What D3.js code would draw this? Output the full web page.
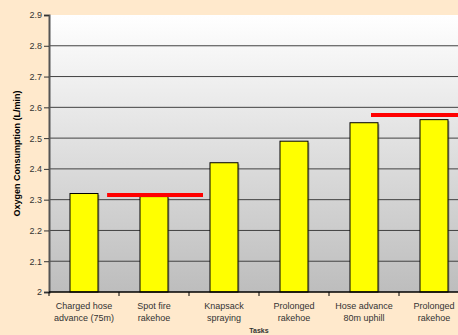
<!DOCTYPE html>
<html>
<head>
<meta charset="utf-8">
<script src="https://cdn.jsdelivr.net/npm/d3@7"></script>
<style>
  body { margin: 0; background: #FFE9CC; }
  svg { display: block; font-family: "Liberation Sans", Arial, sans-serif; }
</style>
</head>
<body>
<svg width="458" height="335"></svg>
<script>
const tasks = [
    ["Charged hose", "advance (75m)"],
    ["Spot fire", "rakehoe"],
    ["Knapsack", "spraying"],
    ["Prolonged", "rakehoe"],
    ["Hose advance", "80m uphill"],
    ["Prolonged", "rakehoe"],
    ["", ""]
]
const oxygen = [2.32, 2.31, 2.42, 2.49, 2.55, 2.56, null]
const yTicks = [2, 2.1, 2.2, 2.3, 2.4, 2.5, 2.6, 2.7, 2.8, 2.9]

// red reference lines: value and span measured in category units
const refValues = [2.315, 2.575]
const refStarts = [0.83, 4.6]
const refEnds = [2.2, 6.6]

const svg = d3.select("svg")

const xScale = d3.scaleBand().domain(d3.range(tasks.length)).range([49, 49 + 70 * tasks.length]).paddingInner(0).paddingOuter(0)
const xUnit = d3.scaleLinear().domain([0, tasks.length]).range([49, 49 + 70 * tasks.length])
const yScale = d3.scaleLinear().domain([2, 2.9]).range([292, 15])

// plot background gradient
const grad = svg.append("defs").append("linearGradient")
    .attr("id", "bg")
    .attr("x1", 0).attr("y1", 0).attr("x2", 0).attr("y2", 1)
grad.append("stop").attr("offset", "0%").attr("stop-color", "#FFFFFF")
grad.append("stop").attr("offset", "100%").attr("stop-color", "#BDBDBD")

svg.append("rect")
    .attr("x", xUnit(0))
    .attr("y", yScale(2.9))
    .attr("width", xUnit(tasks.length) - xUnit(0))
    .attr("height", yScale(2) - yScale(2.9))
    .style("fill", "url(#bg)")

// gridlines
svg.selectAll("line.grid")
    .data(yTicks.slice(1, -1))
    .enter()
    .append("line")
    .attr("class", "grid")
    .attr("x1", xUnit(0))
    .attr("x2", xUnit(tasks.length))
    .attr("y1", d => yScale(d))
    .attr("y2", d => yScale(d))
    .style("stroke", "#404040")
    .style("stroke-width", "1px")

// bars
const barW = xScale.bandwidth() * 0.4
const bars = svg.selectAll("g.bar")
    .data(oxygen.filter(v => v != null))
    .enter()
    .append("g")
    .attr("class", "bar")

bars.append("rect")
    .attr("x", (d, i) => xScale(i) + (xScale.bandwidth() - barW) / 2 + 1.5)
    .attr("y", d => yScale(d) + 1.5)
    .attr("width", barW)
    .attr("height", d => yScale(2) - yScale(d) - 1.5)
    .style("fill", "#6b6b40")
    .style("opacity", 0.5)

bars.append("rect")
    .attr("x", (d, i) => xScale(i) + (xScale.bandwidth() - barW) / 2)
    .attr("y", d => yScale(d))
    .attr("width", barW)
    .attr("height", d => yScale(2) - yScale(d))
    .style("fill", "#FFFF00")
    .style("stroke", "#000")
    .style("stroke-width", "1px")

// red reference lines
svg.selectAll("line.ref")
    .data(refValues)
    .enter()
    .append("line")
    .attr("class", "ref")
    .attr("x1", (d, i) => xUnit(refStarts[i]))
    .attr("x2", (d, i) => xUnit(refEnds[i]))
    .attr("y1", d => yScale(d))
    .attr("y2", d => yScale(d))
    .style("stroke", "#FF0000")
    .style("stroke-width", "4px")

// y axis
const yAxis = d3.axisLeft(yScale)
    .tickValues(yTicks)
    .tickSize(5)
    .tickPadding(2)
    .tickFormat(d3.format("~g"))

const yG = svg.append("g")
    .attr("transform", `translate(${xUnit(0)},0)`)
    .call(yAxis)
yG.select(".domain").style("stroke", "#555").style("stroke-width", "2px")
yG.selectAll(".tick line").style("stroke", "#333")
yG.selectAll(".tick text").style("font-size", "9px").style("fill", "#333")

// x axis
svg.append("line")
    .attr("x1", xUnit(0))
    .attr("x2", xUnit(tasks.length))
    .attr("y1", yScale(2))
    .attr("y2", yScale(2))
    .style("stroke", "#000")
    .style("stroke-width", "1.5px")

svg.selectAll("line.xtick")
    .data(d3.range(tasks.length + 1))
    .enter()
    .append("line")
    .attr("class", "xtick")
    .attr("x1", d => xUnit(d))
    .attr("x2", d => xUnit(d))
    .attr("y1", yScale(2))
    .attr("y2", yScale(2) + 4)
    .style("stroke", "#000")

svg.selectAll("text.cat")
    .data(tasks)
    .enter()
    .append("text")
    .attr("class", "cat")
    .attr("text-anchor", "middle")
    .style("font-size", "9px")
    .style("fill", "#333")
    .each(function (d, i) {
        const cx = xScale(i) + xScale.bandwidth() / 2
        d3.select(this).selectAll("tspan")
            .data(d)
            .enter()
            .append("tspan")
            .attr("x", cx)
            .attr("y", (t, j) => 309 + j * 11.5)
            .text(t => t)
    })

// axis titles
svg.append("text")
    .attr("transform", `translate(20,${(yScale(2) + yScale(2.9)) / 2}) rotate(-90)`)
    .attr("text-anchor", "middle")
    .style("font-size", "9px")
    .style("font-weight", "bold")
    .text("Oxygen Consumption (L/min)")

svg.append("text")
    .attr("x", 259)
    .attr("y", 333)
    .attr("text-anchor", "middle")
    .style("font-size", "7px")
    .style("font-weight", "bold")
    .style("fill", "#333")
    .text("Tasks")
</script>
</body>
</html>
